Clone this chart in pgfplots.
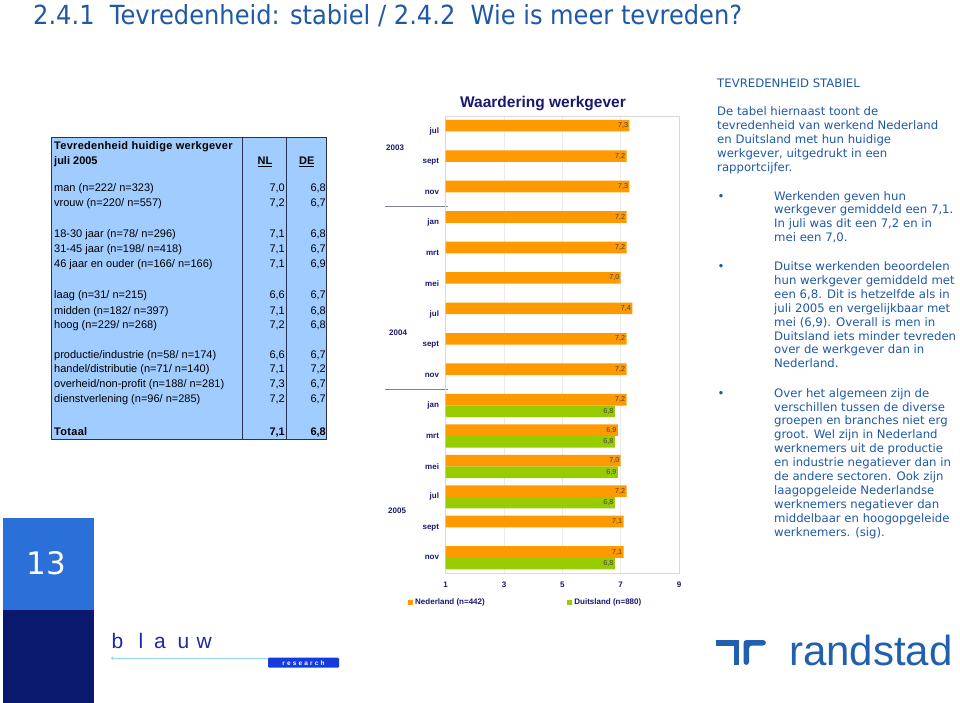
\documentclass[border=0pt]{standalone}
\usepackage{pgfplots}
\pgfplotsset{compat=1.18}
\usepackage{fontspec}
\usepackage{graphicx}
\setmainfont{Liberation Sans}
\newfontfamily\dejavu{DejaVu Sans}
\newfontfamily\hdrfont[LetterSpace=2.7]{Liberation Sans}
\definecolor{navy}{RGB}{25,25,112}
\definecolor{tblue}{RGB}{31,89,166}
\definecolor{nlorange}{RGB}{255,153,0}
\definecolor{degreen}{RGB}{153,204,0}
\definecolor{tabfill}{RGB}{160,204,255}
\definecolor{tabline}{RGB}{40,50,80}
\definecolor{boxlight}{RGB}{43,112,216}
\definecolor{boxdark}{RGB}{10,24,110}
\definecolor{blauwc}{RGB}{30,40,170}
\definecolor{cyanline}{RGB}{140,220,235}
\definecolor{researchbox}{RGB}{20,60,220}
\definecolor{rsblue}{RGB}{33,95,175}
\definecolor{sepline}{RGB}{128,128,150}
\pgfplotsset{sqlegend/.style={legend image code/.code={\fill[##1] (0bp,-2.6bp) rectangle (5.2bp,2.6bp);}}}
\newcommand\trow[4]{%
  \node[anchor=base west,inner sep=0pt] at (54,#1) {#2};
  \node[anchor=base east,inner sep=0pt] at (285,#1) {#3};
  \node[anchor=base east,inner sep=0pt] at (326,#1) {#4};}
\newcommand\rfont{\dejavu\fontsize{11.7bp}{13.9bp}\selectfont}
\begin{document}
\begin{tikzpicture}
\begin{scope}[x=1bp,y=-1bp]
\path[use as bounding box, fill=white] (0,0) rectangle (960,703);
% slide title
\node[anchor=base west, inner sep=0pt, text=tblue] at (33,25)
  {\resizebox{709bp}{20bp}{\dejavu\fontsize{24bp}{28bp}\selectfont 2.4.1\ \ Tevredenheid: stabiel / 2.4.2\ \ Wie is meer tevreden?}};
% table
\fill[tabfill] (51.7,137.3) rectangle (326.7,439.3);
\draw[tabline, line width=1.3bp] (51.7,137.3) rectangle (326.7,439.3);
\draw[tabline, line width=1.1bp] (242.3,137.3) -- (242.3,439.3);
\draw[tabline, line width=1.1bp] (286.5,137.3) -- (286.5,439.3);
\begin{scope}[font=\fontsize{11bp}{13bp}\selectfont]
\node[anchor=base west,inner sep=0pt] at (54,149.5) {\hdrfont\bfseries Tevredenheid huidige werkgever};
\node[anchor=base west,inner sep=0pt] at (54,164.5) {\bfseries juli 2005};
\node[anchor=base,inner sep=0pt] at (265,164.5) {\bfseries\underline{NL}};
\node[anchor=base,inner sep=0pt] at (306.7,164.5) {\bfseries\underline{DE}};
\trow{191.5}{man (n=222/ n=323)}{7,0}{6,8}
\trow{206.8}{vrouw (n=220/ n=557)}{7,2}{6,7}
\trow{237.5}{18-30 jaar (n=78/ n=296)}{7,1}{6,8}
\trow{252.2}{31-45 jaar (n=198/ n=418)}{7,1}{6,7}
\trow{267.5}{46 jaar en ouder (n=166/ n=166)}{7,1}{6,9}
\trow{298.5}{laag (n=31/ n=215)}{6,6}{6,7}
\trow{314.2}{midden (n=182/ n=397)}{7,1}{6,8}
\trow{328.5}{hoog (n=229/ n=268)}{7,2}{6,8}
\trow{358.5}{productie/industrie (n=58/ n=174)}{6,6}{6,7}
\trow{372.8}{handel/distributie (n=71/ n=140)}{7,1}{7,2}
\trow{387.5}{overheid/non-profit (n=188/ n=281)}{7,3}{6,7}
\trow{402.2}{dienstverlening (n=96/ n=285)}{7,2}{6,7}
\trow{435.2}{\hdrfont\bfseries Totaal}{\bfseries 7,1}{\bfseries 6,8}
\end{scope}
% chart title, years, separators
\node[anchor=base, inner sep=0pt, text=navy, font=\bfseries\fontsize{15.5bp}{17bp}\selectfont] at (543,107.2) {Waardering werkgever};
\begin{scope}[font=\bfseries\fontsize{8bp}{9bp}\selectfont, text=navy]
\node[anchor=base west,inner sep=0pt] at (386,151) {2003};
\node[anchor=base west,inner sep=0pt] at (389,335) {2004};
\node[anchor=base west,inner sep=0pt] at (388,513) {2005};
\end{scope}
\draw[sepline, line width=0.9bp] (385,206) -- (448,206);
\draw[sepline, line width=0.9bp] (385,389.3) -- (448,389.3);
% right text
\begin{scope}[text=tblue]
\node[anchor=base west,inner sep=0pt] at (717,88) {\parbox[t]{260bp}{\rfont TEVREDENHEID STABIEL}};
\node[anchor=base west,inner sep=0pt] at (717,115.5) {\parbox[t]{260bp}{\rfont De tabel hiernaast toont de\\tevredenheid van werkend Nederland\\en Duitsland met hun huidige\\werkgever, uitgedrukt in een\\rapportcijfer.}};
\node[anchor=base,inner sep=0pt] at (721,200) {\rfont •};
\node[anchor=base west,inner sep=0pt] at (774,200) {\parbox[t]{200bp}{\rfont Werkenden geven hun\\werkgever gemiddeld een 7,1.\\In juli was dit een 7,2 en in\\mei een 7,0.}};
\node[anchor=base,inner sep=0pt] at (721,270.5) {\rfont •};
\node[anchor=base west,inner sep=0pt] at (774,270.5) {\parbox[t]{200bp}{\rfont Duitse werkenden beoordelen\\hun werkgever gemiddeld met\\een 6,8. Dit is hetzelfde als in\\juli 2005 en vergelijkbaar met\\mei (6,9). Overall is men in\\Duitsland iets minder tevreden\\over de werkgever dan in\\Nederland.}};
\node[anchor=base,inner sep=0pt] at (721,397.1) {\rfont •};
\node[anchor=base west,inner sep=0pt] at (774,397.1) {\parbox[t]{200bp}{\rfont Over het algemeen zijn de\\verschillen tussen de diverse\\groepen en branches niet erg\\groot. Wel zijn in Nederland\\werknemers uit de productie\\en industrie negatiever dan in\\de andere sectoren. Ook zijn\\laagopgeleide Nederlandse\\werknemers negatiever dan\\middelbaar en hoogopgeleide\\werknemers. (sig).}};
\end{scope}
% page number box
\fill[boxlight] (2.7,518.3) rectangle (94.3,610);
\fill[boxdark] (2.7,610) rectangle (94.3,703);
\node[text=white, inner sep=0pt, font=\dejavu\fontsize{31bp}{33bp}\selectfont] at (46.7,563.3) {13};
% blauw research logo
\begin{scope}[text=blauwc, font=\fontsize{21bp}{22bp}\selectfont]
\node[anchor=base west,inner sep=0pt] at (111.5,648.3) {b};
\node[anchor=base west,inner sep=0pt] at (138.5,648.3) {l};
\node[anchor=base west,inner sep=0pt] at (154,648.3) {a};
\node[anchor=base west,inner sep=0pt] at (177.5,648.3) {u};
\node[anchor=base west,inner sep=0pt] at (196.5,648.3) {w};
\end{scope}
\draw[cyanline, line width=0.9bp] (112,658.3) -- (300,658.3);
\fill[cyanline] (112.5,658.3) circle (1.6bp);
\fill[researchbox, rounded corners=1.2bp] (268,657.7) rectangle (339,667.7);
\node[text=white, inner sep=0pt, font=\bfseries\fontsize{6.5bp}{7bp}\selectfont] at (303.5,663) {r\,\,e\,\,s\,\,e\,\,a\,\,r\,\,c\,\,h};
% randstad logo
\fill[rsblue] (716,640) rectangle (739,645.5);
\fill[rsblue] (733.5,640) rectangle (739,665);
\fill[rsblue, rounded corners=3bp] (743.5,665) -- (743.5,640) -- (766,640) -- (766,645.5) -- (749,645.5) -- (749,665) -- cycle;
\node[anchor=base west, inner sep=0pt, text=rsblue, font=\fontsize{42bp}{44bp}\selectfont] at (789,665) {randstad};
\end{scope}
\begin{axis}[
  at={(445.7bp,-573bp)}, anchor=south west,
  scale only axis, width=233.3bp, height=456.8bp,
  xbar=0pt, bar width=11.6bp,
  xmin=1, xmax=9, xtick={1,3,5,7,9},
  ymin=-0.5, ymax=14.5, y dir=reverse,
  ytick={0,...,14},
  yticklabels={jul,sept,nov,jan,mrt,mei,jul,sept,nov,jan,mrt,mei,jul,sept,nov},
  /pgf/number format/assume math mode=true,
  major tick length=0pt,
  tick label style={font=\bfseries\fontsize{8bp}{9bp}\selectfont, text=navy, inner sep=0pt},
  yticklabel style={xshift=-6.5bp},
  xticklabel style={yshift=-9bp},
  xmajorgrids, grid style={black!8, line width=0.5bp},
  axis line style={black!15, line width=0.6bp},
  point meta=x,
  nodes near coords={\pgfmathprintnumber[fixed,fixed zerofill,precision=1,use comma,assume math mode=true]{\pgfplotspointmeta}},
  nodes near coords style={anchor=east, font=\fontsize{7.2bp}{8bp}\selectfont, text=black!75, inner sep=1.2bp},
  legend style={at={(axis description cs:-0.1616,-0.0646)}, anchor=west, draw=none, fill=none,
    inner sep=0pt, outer sep=0pt, column sep=0pt, nodes={inner sep=0pt},
    font=\bfseries\fontsize{8bp}{9bp}\selectfont, text=navy},
  legend columns=2, legend cell align=left, reverse legend,
]
\addplot[fill=degreen, draw=none, sqlegend]
  coordinates {(6.8,9) (6.8,10) (6.9,11) (6.8,12) (6.8,14)};
\addlegendentry{\hspace{2bp}Duitsland (n=880)}
\addplot[fill=nlorange, draw=none, sqlegend]
  coordinates {(7.3,0) (7.2,1) (7.3,2) (7.2,3) (7.2,4) (7.0,5) (7.4,6) (7.2,7) (7.2,8) (7.2,9) (6.9,10) (7.0,11) (7.2,12) (7.1,13) (7.1,14)};
\addlegendentry{\makebox[154bp][l]{\hspace{2bp}Nederland (n=442)}}
\end{axis}
\end{tikzpicture}
\end{document}
